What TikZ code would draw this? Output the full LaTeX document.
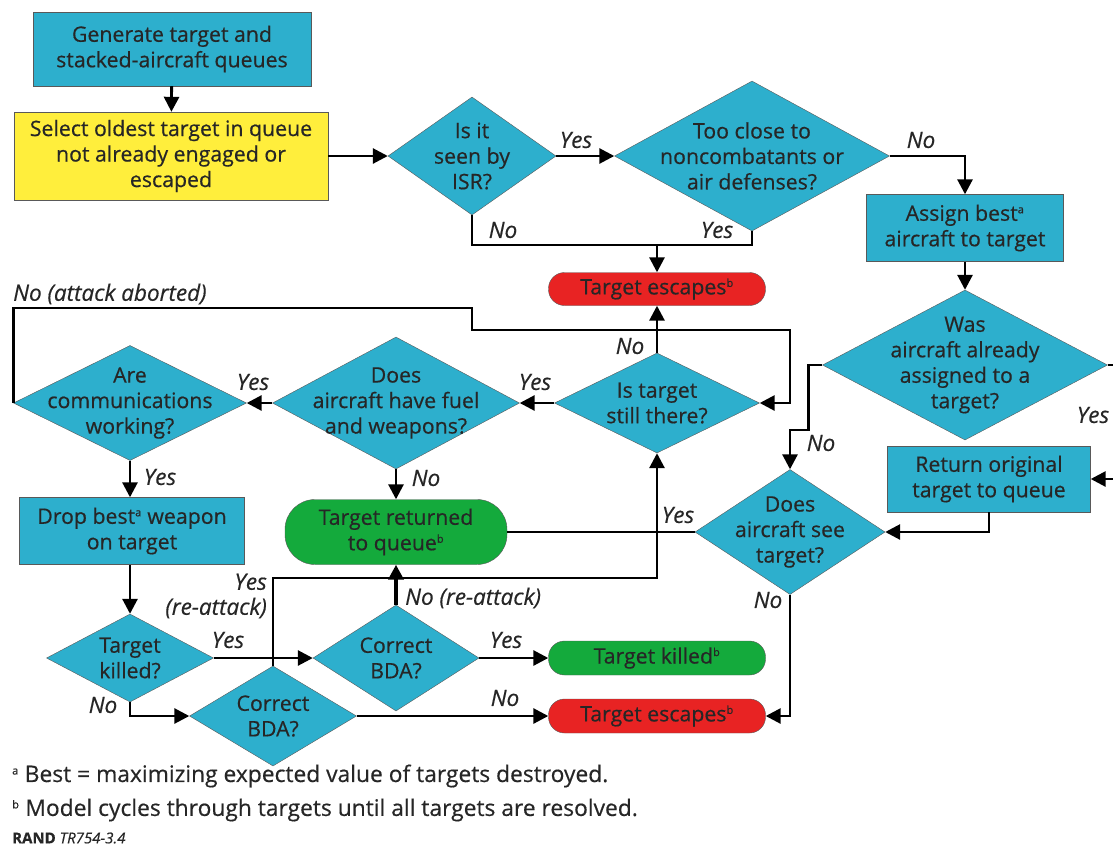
\documentclass[tikz,border=0pt]{standalone}
\usepackage{fontspec}
\setmainfont{Open Sans}[FakeBold=0.5]
\usetikzlibrary{arrows.meta,shapes.geometric}
\definecolor{boxblue}{RGB}{45,175,205}
\definecolor{boxyellow}{RGB}{255,238,60}
\definecolor{endred}{RGB}{232,35,35}
\definecolor{endgreen}{RGB}{20,170,60}
\newcommand{\fnmark}[1]{\textsuperscript{\fontsize{11}{11}\selectfont #1}}
\begin{document}
\begin{tikzpicture}[x=1pt, y=-1pt,
    every node/.style={font=\fontsize{21.3}{25.5}\selectfont, text=black!85},
    proc/.style={draw=black!65, fill=boxblue, align=center, inner sep=0pt},
    dec/.style={diamond, draw=black!65, fill=boxblue, inner sep=0pt},
    term/.style={draw=black!65, align=center, inner sep=0pt},
    lbl/.style={font=\fontsize{22.5}{25}\selectfont\itshape, inner sep=1pt},
    flow/.style={line width=2.8pt, -{Triangle[length=15pt,width=15pt]}},
    link/.style={line width=2.8pt}]
    \useasboundingbox (0,0) rectangle (1113,847);

    % top row
    \node[proc, minimum width=278, minimum height=74] (gen) at (172,49) {Generate target and\\stacked-aircraft queues};
    \node[proc, fill=boxyellow, minimum width=314, minimum height=88] (sel) at (171,156) {Select oldest target in queue\\not already engaged or\\escaped};
    \node[dec, minimum width=168, minimum height=118, label={[align=center]center:Is it\\seen by\\ISR?}] (isr) at (472,156) {};
    \node[dec, minimum width=275, minimum height=150, label={[align=center]center:Too close to\\noncombatants or\\air defenses?}] (close) at (752,156) {};
    \node[term, fill=endred, rounded corners=16, minimum width=217, minimum height=33] (esc1) at (657,289) {Target escapes\fnmark{b}};

    % right column
    \node[proc, minimum width=197, minimum height=67] (assign) at (965,228) {Assign best\fnmark{a}\\aircraft to target};
    \node[dec, minimum width=285, minimum height=150, label={[align=center]center:Was\\aircraft already\\assigned to a\\target?}] (was) at (965,365) {};
    \node[proc, minimum width=203, minimum height=66] (ret) at (989,479) {Return original\\target to queue};
    \node[dec, minimum width=190, minimum height=125, label={[align=center]center:Does\\aircraft see\\target?}] (see) at (790,532) {};

    % middle row
    \node[dec, minimum width=205, minimum height=100, label={[align=center]center:Is target\\still there?}] (still) at (657,403) {};
    \node[dec, minimum width=247, minimum height=132, label={[align=center]center:Does\\aircraft have fuel\\and weapons?}] (fuel) at (396,403) {};
    \node[dec, minimum width=233, minimum height=115, label={[align=center]center:Are\\communications\\working?}] (comms) at (130,403) {};
    \node[term, fill=endgreen, rounded corners=30, minimum width=222, minimum height=65] (retq) at (396,532) {Target returned\\to queue\fnmark{b}};
    \node[proc, minimum width=225, minimum height=67] (drop) at (132,531) {Drop best\fnmark{a} weapon\\on target};

    % bottom row
    \node[dec, minimum width=167, minimum height=88, label={[align=center]center:Target\\killed?}] (tk) at (130,658) {};
    \node[dec, minimum width=166, minimum height=106, label={[align=center]center:Correct\\BDA?}] (bda1) at (396,658) {};
    \node[dec, minimum width=167, minimum height=100, label={[align=center]center:Correct\\BDA?}] (bda2) at (273,716) {};
    \node[term, fill=endgreen, rounded corners=16, minimum width=217, minimum height=34] (killed) at (657,658) {Target killed\fnmark{b}};
    \node[term, fill=endred, rounded corners=16, minimum width=217, minimum height=34] (esc2) at (657,716) {Target escapes\fnmark{b}};

    % connectors
    \coordinate (isrjoin) at (657,245);
    \coordinate (abortA) at (472,308);
    \coordinate (abortB) at (790,330);
    \coordinate (reatk) at (657,578);
    \draw[flow] (gen) -- (sel);
    \draw[flow] (sel) -- (isr);
    \draw[flow] (isr) -- (close);
    \draw[flow] (close.east) -| (assign.north);
    \draw[link] (isr.south) |- (isrjoin) -| (close.south);
    \draw[flow] (isrjoin) -- (esc1);
    \draw[flow] (assign) -- (was);
    \draw[flow] (was.east) -- ++(20,0) |- (ret.east);
    \draw[flow] (was.west) -- ++(-14,0) -- ++(0,65) -| (see.north);
    \draw[flow] (ret.south) |- (see.east);
    \draw[flow] (see.south) |- (esc2.east);
    \draw[link] (see.west) -- (retq.east);
    \draw[flow] (still.north) -- (esc1.south);
    \draw[flow] (comms.west) |- (abortA) |- (abortB) |- (still.east);
    \draw[flow] (still.west) -- (fuel.east);
    \draw[flow] (fuel.west) -- (comms.east);
    \draw[flow] (fuel.south) -- (retq.north);
    \draw[flow] (comms.south) -- (comms.south |- drop.north);
    \draw[flow] (drop.south -| tk.north) -- (tk.north);
    \draw[flow] (tk.east) -- (bda1.west);
    \draw[flow] (tk.south) |- (bda2.west);
    \draw[flow] (bda1.east) -- (killed.west);
    \draw[flow, line width=4.5pt] (bda1.north) -- (retq.south);
    \draw[flow] (bda2.east) -- (esc2.west);
    \draw[flow] (bda2.north) |- (reatk) -- (still.south);

    % branch labels
    \node[lbl] (l1) at (576,140) {Yes};
    \node[lbl] (l2) at (921,140) {No};
    \node[lbl] (l3) at (503,230) {No};
    \node[lbl] (l4) at (717,230) {Yes};
    \node[lbl, anchor=west] (l5) at (12,294) {No (attack aborted)};
    \node[lbl] (l6) at (630,346) {No};
    \node[lbl] (l7) at (535,382) {Yes};
    \node[lbl] (l8) at (253,382) {Yes};
    \node[lbl] (l9) at (160,477) {Yes};
    \node[lbl] (l10) at (426,478) {No};
    \node[lbl] (l11) at (678,515) {Yes};
    \node[lbl] (l12) at (821,443) {No};
    \node[lbl] (l13) at (1093,415) {Yes};
    \node[lbl] (l14) at (768,600) {No};
    \node[lbl, align=right, anchor=east] (l15) at (268,596) {Yes\\(re-attack)};
    \node[lbl, anchor=west] (l16) at (404,598) {No (re-attack)};
    \node[lbl] (l17) at (228,640) {Yes};
    \node[lbl] (l18) at (103,705) {No};
    \node[lbl] (l19) at (506,640) {Yes};
    \node[lbl] (l20) at (505,698) {No};

    % footnotes
    \node[anchor=west, inner sep=0pt, font=\fontsize{22.8}{26}\selectfont] (fna) at (12,776) {\fnmark{a} Best = maximizing expected value of targets destroyed.};
    \node[anchor=west, inner sep=0pt, font=\fontsize{22.8}{26}\selectfont] (fnb) at (12,810) {\fnmark{b} Model cycles through targets until all targets are resolved.};
    \node[anchor=west, inner sep=0pt, font=\fontsize{15}{17}\selectfont] (src) at (12,838) {\textbf{RAND} \textit{TR754-3.4}};
\end{tikzpicture}
\end{document}
